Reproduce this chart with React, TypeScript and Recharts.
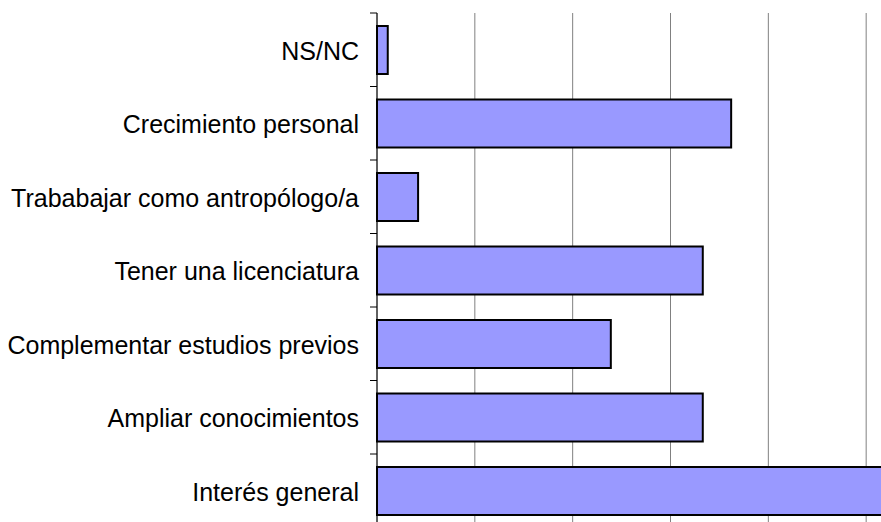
import { BarChart, Bar, XAxis, YAxis, CartesianGrid } from 'recharts';

const categories = [
  'NS/NC',
  'Crecimiento personal',
  'Trababajar como antropólogo/a',
  'Tener una licenciatura',
  'Complementar estudios previos',
  'Ampliar conocimientos',
  'Interés general',
];
const values = [1.1, 36.2, 4.2, 33.3, 23.9, 33.3, 54];
const xTicks = [0, 10, 20, 30, 40, 50, 60];

const data = categories.map((name, i) => ({ name, value: values[i] }));

const CHART_W = 964;
const CHART_H = 548;
const MARGIN = { top: 13, right: 0, bottom: 20.5, left: 0 };
const BAND = (CHART_H - MARGIN.top - MARGIN.bottom) / categories.length;

// recharts hands the tick x already shifted left of the axis by tickSize + tickMargin (8px)
function CategoryTick(props: any) {
  const { x, y, payload, index } = props;
  const ax = x + 8;
  const top = y - BAND / 2;
  const bottom = y + BAND / 2;
  return (
    <g>
      <line x1={ax - 7} x2={ax} y1={top} y2={top} stroke="#000" strokeWidth={1} />
      {index === categories.length - 1 && (
        <line x1={ax - 7} x2={ax} y1={bottom} y2={bottom} stroke="#000" strokeWidth={1} />
      )}
      <text
        x={ax - 18}
        y={y + 1}
        dy="0.36em"
        textAnchor="end"
        fill="#000"
        fontSize={25}
        fontFamily="'Liberation Sans', Arial, sans-serif"
      >
        {payload.value}
      </text>
    </g>
  );
}

export default function App() {
  return (
    <div
      style={{
        position: 'fixed',
        top: 0,
        left: 0,
        width: 881,
        height: 522,
        overflow: 'hidden',
        background: '#fff',
      }}
    >
      <BarChart
        width={CHART_W}
        height={CHART_H}
        data={data}
        layout="vertical"
        margin={MARGIN}
        barSize={48}
      >
        <CartesianGrid horizontal={false} stroke="#808080" strokeWidth={1} />
        <XAxis type="number" domain={[0, 60]} ticks={xTicks} hide />
        <YAxis
          type="category"
          dataKey="name"
          width={377}
          axisLine={{ stroke: '#000', strokeWidth: 1 }}
          tickLine={false}
          tick={<CategoryTick />}
          interval={0}
        />
        <Bar dataKey="value" fill="#9999FF" stroke="#000" strokeWidth={2} isAnimationActive={false} />
      </BarChart>
    </div>
  );
}
